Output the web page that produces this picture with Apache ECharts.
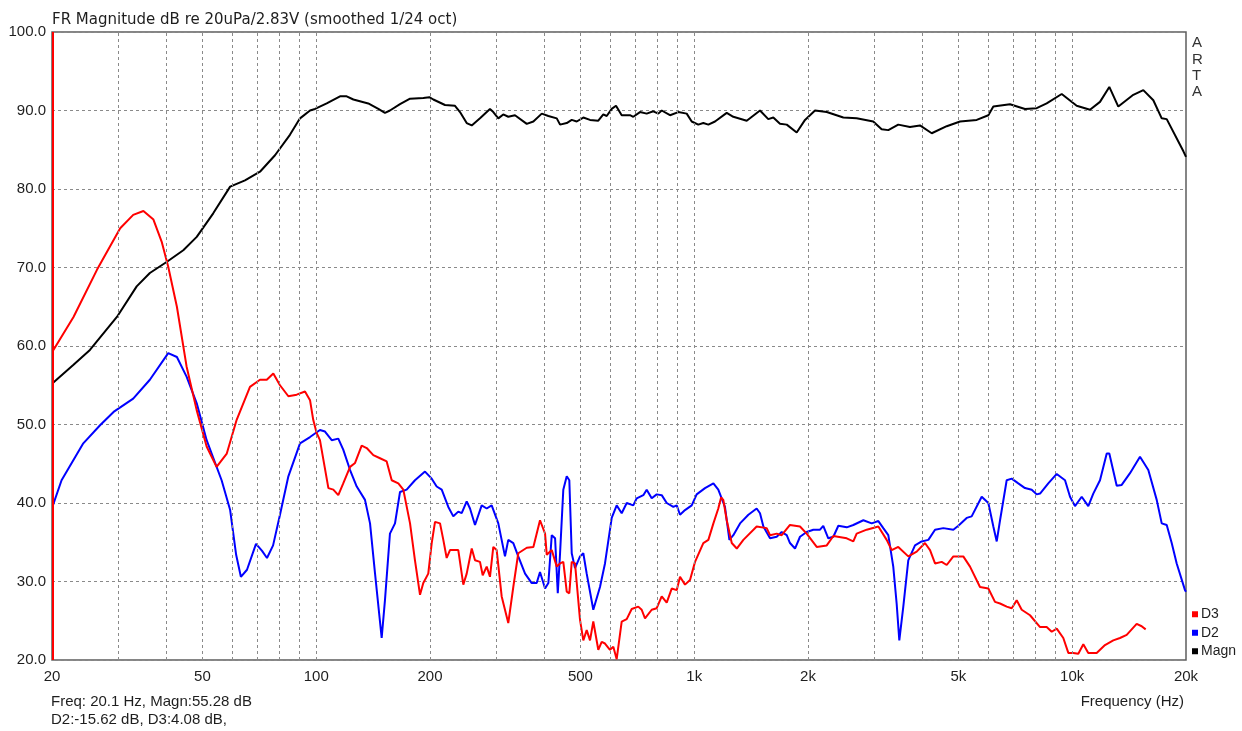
<!DOCTYPE html>
<html>
<head>
<meta charset="utf-8">
<script src="https://cdn.jsdelivr.net/npm/echarts@6/dist/echarts.min.js"></script>
<style>
  html, body { margin: 0; padding: 0; background: #fff; }
  #chart { width: 1242px; height: 731px; }
</style>
</head>
<body>
<div id="chart"></div>
<script>
// Frequency response (ARTA export): magnitude plus 2nd / 3rd harmonic distortion, dB re 20uPa/2.83V
const magnFreq = [20.1, 22.8, 25.2, 29.7, 33.5, 36.3, 40.2, 44.5, 48.3, 53.4, 59.2, 64.8, 71.0, 77.8, 85.2, 90.6, 96.3, 99.3,
  106.6, 115.6, 120.4, 125.4, 137.3, 146.0, 152.0, 156.7, 166.6, 177.1, 192.0, 199.2, 204.1, 219.1, 232.9, 240.1, 250.1,
  257.9, 271.2, 288.2, 294.1, 303.2, 312.5, 322.2, 335.6, 360.6, 375.4, 395.1, 411.3, 432.9, 441.7, 460.0, 474.2, 488.9,
  508.9, 530.1, 557.5, 574.8, 586.8, 605, 621, 642.9, 676.2, 690, 718.7, 748.7, 779.5, 803.6, 820.4, 862.9, 907.7, 955.3,
  984.9, 1025, 1057, 1090, 1135, 1219, 1269, 1377, 1493, 1570, 1619, 1686, 1757, 1867, 1964, 2087, 2242, 2480, 2690, 2976,
  3132, 3262, 3466, 3722, 3956, 4250, 4656, 5050, 5590, 6000, 6185, 6844, 7500, 8054, 8560, 9381, 10276, 11142, 11844,
  12536, 13242, 14510, 15420, 16390, 17250, 17784, 19686, 20000];
const magnDb = [55.28, 57.6, 59.5, 63.7, 67.6, 69.3, 70.7, 72.2, 73.9, 76.9, 80.3, 81.1, 82.2, 84.3, 86.9, 89.0, 90.0, 90.2,
  90.9, 91.8, 91.8, 91.4, 90.9, 90.2, 89.7, 90.0, 90.8, 91.5, 91.6, 91.7, 91.4, 90.7, 90.6, 89.8, 88.4,
  88.1, 89.0, 90.2, 89.8, 89.0, 89.5, 89.2, 89.4, 88.3, 88.6, 89.6, 89.3, 89.0, 88.2, 88.4, 88.8, 88.6,
  89.1, 88.8, 88.7, 89.5, 89.3, 90.2, 90.6, 89.4, 89.4, 89.2, 89.8, 89.6, 89.9, 89.6, 90.0, 89.4, 89.8, 89.6,
  88.6, 88.2, 88.4, 88.2, 88.6, 89.7, 89.2, 88.7, 90.0, 88.9, 89.1, 88.3, 88.2, 87.2, 88.8, 90.0, 89.8, 89.1, 89.0, 88.6,
  87.6, 87.5, 88.2, 87.9, 88.1, 87.1, 88.0, 88.6, 88.8, 89.4, 90.5, 90.8, 90.2, 90.3, 90.9, 92.1, 90.6, 90.1, 91.1,
  93.0, 90.5, 92.0, 92.6, 91.3, 89.0, 88.9, 84.8, 84.1];

const d2Freq = [20.1, 21.2, 24.2, 26.8, 29.1, 32.8, 36.3, 40.6, 42.8, 45.4, 48.3, 51.3, 56.2, 59.2, 61.4, 63.2, 65.6, 69.3,
  71.9, 74.1, 76.9, 80.2, 84.4, 90.6, 96.3, 102.3, 105.5, 109.9, 114.4, 117.9, 122.9, 128.0, 134.6, 138.8, 143.1, 149.0,
  152.0, 156.7, 161.6, 166.6, 173.5, 182.5, 194.0, 202.1, 208.3, 214.8, 223.6, 230.5, 237.6, 242.6, 250.1, 255.2, 263.1,
  274.0, 282.5, 291.2, 303.2, 315.8, 322.2, 332.2, 342.4, 356.9, 371.6, 383.1, 390.9, 403.1, 411.3, 419.9, 428.5, 435.6,
  441.7, 450.5, 460.0, 467.3, 474.2, 483.8, 498.8, 508.9, 519.5, 540.8, 563.3, 580.7, 605, 623.6, 642.9, 662.9, 690,
  704.5, 733.4, 748.7, 771.9, 795.8, 820.4, 845.8, 880.6, 898.9, 917.2, 945.5, 984.9, 1015, 1068, 1124, 1158, 1206, 1239,
  1269, 1322, 1391, 1463, 1493, 1524, 1587, 1653, 1704, 1757, 1792, 1848, 1905, 1984, 2066, 2152, 2195, 2263, 2334, 2406,
  2532, 2636, 2802, 2948, 3070, 3164, 3262, 3362, 3432, 3488, 3574, 3684, 3838, 3998, 4163, 4336, 4560, 4848, 4998, 5258,
  5420, 5762, 6000, 6185, 6314, 6443, 6709, 6917, 7200, 7500, 7814, 8054, 8221, 8644, 9100, 9572, 9868, 10170, 10596,
  11029, 11370, 11844, 12340, 12536, 13114, 13518, 14220, 15112, 15898, 16732, 17250, 17784, 18332, 18898, 19878, 20000];
const d2Db = [39.66, 42.9, 47.6, 49.9, 51.6, 53.3, 55.7, 59.1, 58.6, 56.1, 52.7, 48.0, 42.9, 39.1, 33.4, 30.6, 31.5, 34.8,
  33.9, 33.0, 34.6, 38.5, 43.4, 47.6, 48.4, 49.3, 49.1, 48.0, 48.2, 46.8, 44.2, 42.1, 40.4, 37.4, 31.0, 22.8,
  27.6, 36.1, 37.4, 41.4, 41.7, 42.9, 44.0, 43.1, 42.1, 41.7, 39.5, 38.3, 38.9, 38.7, 40.2, 39.3, 37.2,
  39.7, 39.3, 39.7, 37.4, 33.2, 35.3, 34.9, 33.2, 31.0, 29.8, 29.8, 31.2, 29.1, 29.8, 35.9, 35.5, 28.5,
  33.6, 41.7, 43.4, 42.9, 33.6, 31.7, 33.2, 33.6, 31.0, 26.4, 29.3, 32.3, 38.1, 39.7, 38.7, 40.0, 39.7,
  40.6, 41.0, 41.7, 40.6, 41.1, 41.0, 40.0, 39.5, 39.7, 38.5, 39.1, 39.7, 41.1, 41.9, 42.5, 41.7, 39.5, 35.3,
  35.9, 37.4, 38.5, 39.3, 38.7, 37.0, 35.5, 35.7, 36.3, 35.9, 34.9, 34.2, 35.7, 36.3, 36.6, 36.6, 37.1, 35.5, 35.7, 37.1,
  36.9, 37.2, 37.8, 37.4, 37.7, 36.8, 35.9, 31.9, 27.2, 22.5, 26.8, 32.7, 34.6, 35.1, 35.3, 36.6, 36.8, 36.6, 37.1, 38.1,
  38.3, 40.8, 40.0, 37.0, 35.1, 37.8, 42.9, 43.1, 42.5, 41.9, 41.7, 41.1, 41.2, 42.5, 43.7, 42.9, 40.8, 39.6, 40.8,
  39.6, 41.2, 42.9, 46.3, 46.3, 42.2, 42.3, 43.8, 45.9, 44.2, 40.4, 37.4, 37.2, 34.9, 32.3, 28.9, 28.7];

const d3Freq = [20.1, 22.8, 26.3, 30.3, 32.8, 34.9, 37.1, 39.0, 40.6, 42.8, 45.4, 48.3, 51.3, 54.5, 58.0, 61.6, 66.8, 71.0,
  74.0, 77.0, 80.2, 84.4, 88.8, 93.4, 96.3, 98.2, 100.3, 102.3, 107.7, 111.0, 114.4, 117.9, 122.9, 126.7, 131.9, 136.0,
  141.6, 147.5, 153.6, 158.4, 164.9, 170.0, 177.1, 182.5, 188.2, 192.0, 197.9, 202.1, 206.2, 212.6, 216.9, 221.4, 225.9,
  237.6, 245.0, 250.1, 257.9, 263.1, 271.2, 275.7, 282.5, 288.2, 294.1, 300.2, 309.5, 322.2, 332.2, 342.4, 360.6, 375.4,
  390.9, 403.1, 407.3, 419.9, 432.9, 441.7, 450.5, 460.0, 467.3, 474.2, 483.8, 498.8, 508.9, 519.5, 530.1, 540.8, 557.5,
  569.2, 580.7, 598.7, 610.9, 623.6, 642.9, 662.9, 683.3, 711.3, 726.2, 741, 771.9, 795.8, 820.4, 845.8, 871.9, 898.9,
  917.2, 945.5, 974.8, 1005, 1057, 1090, 1124, 1158, 1178, 1194, 1219, 1257, 1296, 1349, 1463, 1555, 1587, 1653, 1704,
  1792, 1905, 1984, 2109, 2242, 2334, 2532, 2636, 2690, 2860, 3070, 3230, 3330, 3466, 3684, 3878, 4078, 4206, 4336, 4516,
  4656, 4848, 5150, 5366, 5702, 6000, 6248, 6443, 6709, 6917, 7131, 7352, 7734, 8221, 8560, 8826, 9100, 9472, 9766,
  10069, 10379, 10700, 11029, 11370, 11608, 12210, 12842, 13378, 13937, 14810, 15268, 15644];
const d3Db = [59.36, 63.7, 69.7, 75.0, 76.7, 77.2, 76.1, 73.3, 70.1, 65.0, 57.4, 51.8, 47.2, 44.6, 46.3, 50.6, 54.8, 55.7,
  55.7, 56.5, 55.0, 53.6, 53.8, 54.2, 53.1, 50.6, 48.9, 48.0, 41.9, 41.7, 41.0, 42.5, 44.6, 45.1, 47.3, 47.0,
  46.1, 45.7, 45.3, 42.9, 42.5, 41.7, 37.4, 32.7, 28.3, 29.8, 31.0, 34.9, 37.6, 37.4, 35.3, 33.0, 34.0,
  34.0, 29.6, 31.0, 34.2, 32.7, 32.5, 30.8, 31.9, 30.6, 34.4, 34.0, 28.1, 24.7, 29.3, 33.6, 34.3, 34.4,
  37.8, 36.1, 33.4, 34.0, 31.9, 32.3, 32.5, 28.7, 28.5, 32.5, 32.3, 25.1, 22.5, 23.8, 22.5, 24.9, 21.3,
  22.3, 22.1, 21.3, 21.7, 20.1, 24.9, 25.2, 26.5, 26.8, 26.4, 25.3, 26.4, 26.6, 28.1, 27.3, 29.1, 28.9,
  30.6, 29.6, 30.2, 32.5, 34.9, 35.3, 37.4, 39.3, 40.7, 40.4, 37.8, 34.9, 34.2, 35.3, 37.0, 36.8, 35.9, 36.1, 35.9,
  37.2, 37.0, 36.1, 34.4, 34.6, 35.8, 35.5, 35.1, 36.1, 36.6, 37.0, 35.3, 34.0, 34.4, 33.2, 33.8, 34.9, 34.0, 32.3, 32.5,
  32.1, 33.2, 33.2, 31.9, 29.3, 29.1, 27.4, 27.2, 26.8, 26.6, 27.6, 26.4, 25.7, 24.2, 24.2, 23.6, 24.0, 22.8, 20.9,
  20.9, 20.8, 22.0, 20.9, 20.9, 20.9, 21.9, 22.5, 22.8, 23.2, 24.6, 24.3, 23.9];

// Axis ticks and grid
const xTickValues = [20, 50, 100, 200, 500, 1000, 2000, 5000, 10000, 20000];
const xTickLabels = ['20', '50', '100', '200', '500', '1k', '2k', '5k', '10k', '20k'];
const xGridValues = [30, 40, 50, 60, 70, 80, 90, 100, 200, 300, 400, 500, 600, 700, 800, 900, 1000,
  2000, 3000, 4000, 5000, 6000, 7000, 8000, 9000, 10000];
const cursorFreq = 20.1;

const FONT = '"Liberation Sans", Arial, sans-serif';
const TITLE_FONT = '"DejaVu Sans", "Liberation Sans", sans-serif';
const TEXT = '#1e1e1e';

const pairs = (fs, vs) => fs.map((f, i) => [f, vs[i]]);

// readout at the cursor (harmonics relative to the magnitude)
const cursorMagn = magnDb[0];
const readout = 'Freq: ' + cursorFreq + ' Hz, Magn:' + cursorMagn.toFixed(2) + ' dB\n' +
  'D2:' + (d2Db[0] - cursorMagn).toFixed(2) + ' dB, D3:' + (d3Db[0] - cursorMagn).toFixed(2) + ' dB,';

// dashed vertical grid; tick labels sit under the decade/half-decade lines
const gridLineData = xGridValues.map(v => {
  const k = xTickValues.indexOf(v);
  return k < 0
    ? { xAxis: v, label: { show: false } }
    : { xAxis: v, label: { show: true, formatter: xTickLabels[k] } };
});
// the two end labels share the frame edges, so their lines stay invisible
const edgeLabelData = [0, xTickValues.length - 1].map(k => ({
  xAxis: xTickValues[k],
  lineStyle: { color: 'rgba(0,0,0,0)', width: 0 },
  label: { show: true, formatter: xTickLabels[k] }
}));

const chart = echarts.init(document.getElementById('chart'), null, { renderer: 'canvas' });
chart.setOption({
  animation: false,
  backgroundColor: '#ffffff',
  textStyle: { fontFamily: FONT },
  title: [
    { text: 'FR Magnitude dB re 20uPa/2.83V (smoothed 1/24 oct)', left: 52, top: 11, padding: 0,
      textStyle: { fontSize: 15, fontWeight: 'normal', color: TEXT, fontFamily: TITLE_FONT, lineHeight: 18 } },
    { text: 'A\nR\nT\nA', left: 1192, top: 35, padding: 0,
      textStyle: { fontSize: 15, fontWeight: 'normal', color: '#333', fontFamily: FONT, lineHeight: 16.3 } },
    { text: readout, left: 51, top: 693, padding: 0,
      textStyle: { fontSize: 15, fontWeight: 'normal', color: TEXT, fontFamily: FONT, lineHeight: 18 } },
    { text: 'Frequency (Hz)', right: 58, top: 693, padding: 0,
      textStyle: { fontSize: 15, fontWeight: 'normal', color: TEXT, fontFamily: FONT, lineHeight: 18 } }
  ],
  legend: {
    data: ['D3', 'D2', 'Magn'],
    orient: 'vertical',
    left: 1192,
    top: 605,
    padding: 0,
    itemGap: 0,
    itemWidth: 6,
    itemHeight: 6,
    icon: 'rect',
    selectedMode: false,
    textStyle: { fontSize: 14, color: TEXT, fontFamily: FONT, lineHeight: 18.5, padding: [0, 0, 0, -2] }
  },
  grid: {
    left: 52, right: 56, top: 32, bottom: 71,
    show: true, borderColor: '#5e5e5e', borderWidth: 1.5, backgroundColor: '#fff'
  },
  xAxis: {
    type: 'log', logBase: 10, min: 20, max: 20000,
    axisLine: { show: false }, axisTick: { show: false },
    axisLabel: { show: false }, splitLine: { show: false }
  },
  yAxis: {
    type: 'value', min: 20, max: 100, interval: 10,
    axisLine: { show: false }, axisTick: { show: false },
    axisLabel: { fontSize: 15, color: TEXT, fontFamily: FONT, margin: 6, formatter: v => v.toFixed(1) },
    splitLine: { show: true, lineStyle: { color: '#8a8a8a', width: 1, type: [3, 3] } }
  },
  series: [
    {
      name: 'grid', type: 'line', data: [], silent: true,
      markLine: {
        silent: true, symbol: ['none', 'none'], animation: false,
        lineStyle: { color: '#8a8a8a', width: 1, type: [3, 3] },
        label: { position: 'start', distance: 9, fontSize: 15, color: TEXT, fontFamily: FONT },
        data: gridLineData.concat(edgeLabelData)
      }
    },
    {
      name: 'Magn', type: 'line', data: pairs(magnFreq, magnDb), showSymbol: false,
      color: '#000000', lineStyle: { width: 2, color: '#000000' }
    },
    {
      name: 'D2', type: 'line', data: pairs(d2Freq, d2Db), showSymbol: false,
      color: '#0000ff', lineStyle: { width: 2, color: '#0000ff' }
    },
    {
      name: 'D3', type: 'line', data: pairs(d3Freq, d3Db), showSymbol: false,
      color: '#ff0000', lineStyle: { width: 2, color: '#ff0000' }
    },
    {
      name: 'cursor', type: 'line', data: [], silent: true,
      markLine: {
        silent: true, symbol: ['none', 'none'], animation: false,
        lineStyle: { color: '#ff0000', width: 2, type: 'solid' },
        label: { show: false },
        data: [{ xAxis: cursorFreq }]
      }
    }
  ]
});
</script>
</body>
</html>
